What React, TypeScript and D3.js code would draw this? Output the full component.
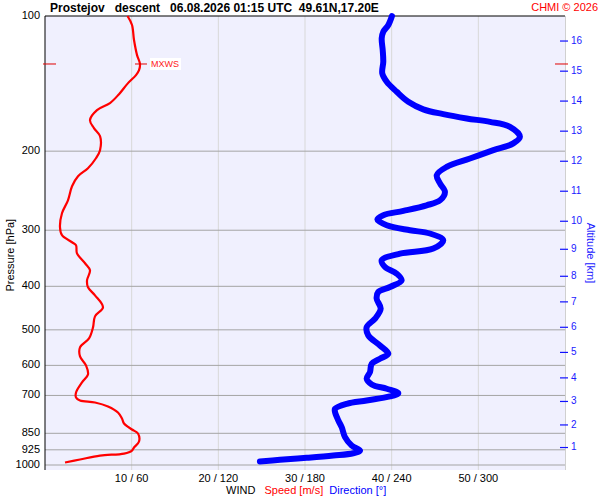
import * as d3 from 'd3';

// wind speed profile [hPa, m/s]
const speedPres = [100, 104.7, 113.1, 122.2, 127.9, 132.0, 135.4, 141.1, 149.3, 156.3, 162.0, 170.6, 177.7, 185.2, 199.0, 207.4, 218.3, 227.4, 239.4, 257.3, 275.0, 295.4, 307.8, 319.1, 324.1, 337.7, 355.4, 368.4, 387.8, 402.0, 418.9, 445.5, 466.6, 493.7, 522.4, 547.1, 573.0, 600.1, 628.5, 654.8, 689.3, 707.3, 718.2, 725.6, 740.7, 763.8, 787.7, 808.2, 833.5, 850.9, 886.6, 914.3, 928.5, 943.0, 952.7, 972.1, 987.3];
const speedVals = [9.52, 10.04, 10.27, 10.62, 10.96, 10.85, 10.5, 9.58, 8.54, 7.5, 6.0, 5.19, 5.65, 6.35, 6.35, 5.88, 4.96, 3.81, 3.12, 2.65, 1.96, 1.73, 1.96, 3.12, 3.58, 3.69, 4.62, 5.19, 4.85, 4.96, 5.77, 6.69, 5.77, 5.54, 5.08, 4.04, 4.04, 4.73, 4.96, 4.27, 3.58, 3.58, 4.04, 5.77, 7.27, 8.42, 8.88, 9.12, 10.04, 10.73, 10.85, 10.27, 10.04, 9.12, 6.35, 4.04, 2.31, 1.73];

// wind direction profile [hPa, deg]
const dirPres = [100, 104.7, 108.4, 112.1, 119.1, 126.4, 134.2, 140.1, 147.5, 155.3, 161.4, 165.4, 169.1, 172.1, 176.5, 185.8, 192.2, 199.0, 207.7, 216.8, 226.2, 236.1, 246.5, 257.3, 264.0, 271.7, 277.7, 283.9, 292.4, 300.0, 305.1, 315.8, 329.6, 338.2, 349.9, 362.2, 374.8, 387.8, 401.4, 411.9, 426.0, 448.5, 472.1, 492.9, 514.4, 541.6, 565.1, 579.8, 594.9, 621.1, 642.5, 661.6, 676.4, 691.8, 703.7, 718.2, 730.5, 749.5, 762.6, 795.8, 823.7, 867.1, 905.0, 928.5, 941.5, 952.7, 963.9, 973.7, 982.2];
const dirVals = [240.2, 237.7, 234.2, 233.1, 233.8, 234.2, 233.5, 236.6, 243.5, 251.5, 261.9, 275.7, 291.9, 308.1, 321.9, 328.8, 324.2, 310.4, 294.2, 278.1, 271.2, 273.5, 276.9, 273.5, 264.2, 248.1, 234.2, 230.1, 236.6, 252.7, 266.5, 275.7, 268.8, 245.8, 233.1, 235.4, 243.5, 246.9, 238.8, 230.7, 229.6, 232.4, 228.5, 222.7, 223.8, 231.9, 237.7, 231.9, 226.2, 225.0, 222.7, 226.2, 236.6, 244.6, 238.8, 222.7, 208.9, 200.8, 200.8, 203.1, 205.4, 207.7, 212.3, 218.1, 213.4, 199.6, 181.2, 162.7, 148.8];

const presTicks = [100, 200, 300, 400, 500, 600, 700, 850, 925, 1000];
const speedTicks = [10, 20, 30, 40, 50];
const altKm = [16, 15, 14, 13, 12, 11, 10, 9, 8, 7, 6, 5, 4, 3, 2, 1];
const altPres = [113.7, 132.7, 154.7, 180.5, 210.6, 245.6, 286.5, 330.8, 379.9, 433.2, 493.5, 561.4, 639.7, 721.9, 814.3, 914.3];
const mxwsPres = 127.9;
const mxwsSpeed = 10.96;

const W = 600;
const H = 500;
const L = 45;
const R = 565;
const T = 16;
const B = 465;
const FONT = 'Liberation Sans, Arial, sans-serif';

export default function App() {
  const y = d3.scaleLog().domain([100, 1000]).range([T, B]);
  const xs = d3.scaleLinear().domain([0, 60]).range([L, R]);
  const xd = d3.scaleLinear().domain([0, 360]).range([L, R]);

  const speedPath = d3
    .line<number>()
    .x((_, i) => xs(speedVals[i]))
    .y((p) => y(p))
    .curve(d3.curveCatmullRom)(speedPres);
  const dirPath = d3
    .line<number>()
    .x((_, i) => xd(dirVals[i]))
    .y((p) => y(p))
    .curve(d3.curveCatmullRom)(dirPres);

  const my = y(mxwsPres);
  const mx = xs(mxwsSpeed);

  return (
    <div style={{ position: 'absolute', left: 0, top: 0 }}>
      <svg width={W} height={H} style={{ display: 'block', fontFamily: FONT }}>
        <rect x={0} y={0} width={W} height={H} fill="#fff" />
        <rect x={L} y={T} width={R - L} height={470 - T} fill="#f0f0fe" />

        {speedTicks.map((t) => (
          <g key={`x-${t}`}>
            <line x1={xs(t)} x2={xs(t)} y1={T} y2={470} stroke="#d8d8d8" />
            <text x={xs(t)} y={479} fontSize={11} textAnchor="middle" dominantBaseline="middle">
              {`${t} / ${t * 6}`}
            </text>
          </g>
        ))}
        <line x1={R + 0.5} x2={R + 0.5} y1={T} y2={470} stroke="#d0d0d0" />

        {presTicks.map((p) => (
          <g key={`y-${p}`}>
            {p !== 100 && <line x1={L} x2={R} y1={y(p)} y2={y(p)} stroke="#a4a4a4" />}
            <text x={40} y={y(p)} fontSize={11} textAnchor="end" dominantBaseline="middle">
              {p}
            </text>
          </g>
        ))}

        <line x1={L} x2={R} y1={T} y2={T} stroke="#000" />
        <line x1={L} x2={L} y1={T} y2={470} stroke="#000" />

        {altKm.map((k, i) => (
          <g key={`a-${k}`}>
            <line x1={560} x2={568} y1={y(altPres[i])} y2={y(altPres[i])} stroke="#1010ff" strokeWidth={1.2} />
            <text x={571} y={y(altPres[i])} fontSize={10} fill="#1a1aff" dominantBaseline="middle">
              {k}
            </text>
          </g>
        ))}

        <path d={speedPath ?? ''} fill="none" stroke="#ff0000" strokeWidth={2.2} strokeLinejoin="round" />
        <path
          d={dirPath ?? ''}
          fill="none"
          stroke="#0000ff"
          strokeWidth={6}
          strokeLinejoin="round"
          strokeLinecap="round"
        />

        <line x1={43} x2={56} y1={my} y2={my} stroke="#e00000" />
        <line x1={mx - 5} x2={mx + 7} y1={my} y2={my} stroke="#e00000" />
        <line x1={555} x2={568} y1={my} y2={my} stroke="#e00000" />
        <rect x={mx + 10} y={my - 6} width={31} height={12} fill="#fff" />
        <text x={mx + 11} y={my + 0.5} fontSize={9} fill="#ff2020" dominantBaseline="middle">
          MXWS
        </text>

        <text x={50} y={12} fontSize={12} fontWeight="bold" style={{ whiteSpace: 'pre' }}>
          {'Prostejov   descent   06.08.2026 01:15 UTC  49.61N,17.20E'}
        </text>
        <text x={598} y={11} fontSize={11} fill="#ff0000" textAnchor="end">
          CHMI © 2026
        </text>

        <text
          transform={`translate(11,${y(300) + 25}) rotate(-90)`}
          fontSize={11}
          textAnchor="middle"
          dominantBaseline="middle"
        >
          Pressure [hPa]
        </text>
        <text
          transform={`translate(590,253) rotate(90)`}
          fontSize={11}
          fill="#2020ff"
          textAnchor="middle"
          dominantBaseline="middle"
        >
          Altitude [km]
        </text>

        <text x={226} y={491} fontSize={11} dominantBaseline="middle" style={{ whiteSpace: 'pre' }}>
          <tspan>WIND </tspan>
          <tspan fill="#ff0000">{'  Speed [m/s]'}</tspan>
          <tspan fill="#0000ff">{'  Direction [°]'}</tspan>
        </text>
      </svg>
    </div>
  );
}
